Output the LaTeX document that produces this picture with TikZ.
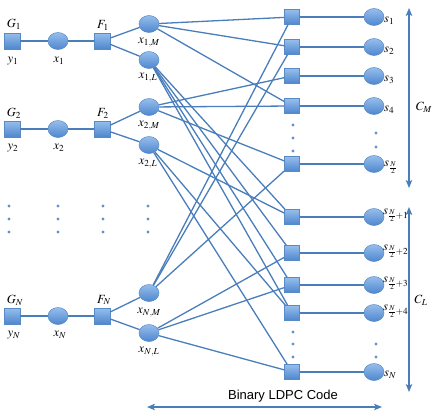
\documentclass[tikz,border=0pt]{standalone}
\usepackage{mathptmx}
\usepackage{fontspec}
\newfontfamily\labelsans{Liberation Sans}
\usetikzlibrary{shapes.geometric,arrows.meta}
\definecolor{edgeblue}{RGB}{74,126,187}
\definecolor{nodetop}{RGB}{150,190,236}
\definecolor{nodebot}{RGB}{78,134,206}
\definecolor{nodeline}{RGB}{88,138,198}
\tikzset{
  sqnode/.style={rectangle, minimum width=16pt, minimum height=16pt, inner sep=0pt,
    top color=nodetop, bottom color=nodebot, draw=nodeline, line width=0.5pt},
  chknode/.style={sqnode, minimum width=15pt, minimum height=15pt},
  varnode/.style={ellipse, minimum width=20pt, minimum height=17pt, inner sep=0pt,
    top color=nodetop, bottom color=nodebot, draw=nodeline, line width=0.5pt},
  conn/.style={draw=edgeblue, line width=1.3pt},
  lab/.style={inner sep=0pt, font=\fontsize{12.5}{14}\selectfont},
  dotmark/.style={circle, fill=edgeblue!85, inner sep=0pt, minimum size=3.2pt},
  dblarrow/.style={draw=edgeblue, line width=1.3pt,
    {Stealth[length=8pt,width=6.5pt,inset=2pt]}-{Stealth[length=8pt,width=6.5pt,inset=2pt]}},
}
\begin{document}
\begin{tikzpicture}[x=1pt,y=-1pt]
\useasboundingbox (0,0) rectangle (436,418);

% left chain nodes
\node[sqnode]  (G1) at (12,41) {};
\node[varnode] (x1) at (58,41) {};
\node[sqnode]  (F1) at (102,41) {};
\node[sqnode]  (G2) at (12,129) {};
\node[varnode] (x2) at (58,129) {};
\node[sqnode]  (F2) at (102,129) {};
\node[sqnode]  (GN) at (12,316) {};
\node[varnode] (xN) at (58,316) {};
\node[sqnode]  (FN) at (102,316) {};

% bit nodes
\node[varnode] (x1M) at (149,24) {};
\node[varnode] (x1L) at (149,60) {};
\node[varnode] (x2M) at (149,107) {};
\node[varnode] (x2L) at (149,145) {};
\node[varnode] (xNM) at (149,293) {};
\node[varnode] (xNL) at (149,333) {};

% check nodes and symbol nodes
\foreach \i/\y in {1/17,2/47,3/76,4/106,5/164,6/217,7/253,8/285,9/313,10/372}{
  \node[chknode] (c\i) at (292,\y) {};
  \node[varnode] (s\i) at (374,\y) {};
}

% connectors
\foreach \r in {1,2,N}{
  \draw[conn] (G\r) -- (x\r);
  \draw[conn] (x\r) -- (F\r);
  \draw[conn] (F\r) -- (x\r M);
  \draw[conn] (F\r) -- (x\r L);
}
\foreach \a/\b in {x1M/c1,x1M/c2,x1M/c4,
                   x1L/c6,x1L/c7,x1L/c8,x1L/c9,
                   x2M/c3,x2M/c4,x2M/c5,
                   x2L/c6,x2L/c9,x2L/c10,
                   xNM/c1,xNM/c2,xNM/c5,
                   xNL/c7,xNL/c8,xNL/c10}{
  \draw[conn] (\a) -- (\b);
}
\foreach \i in {1,...,10}{
  \draw[conn] (c\i) -- (s\i);
}

% labels left
\node[lab] (lG1) at (14,24) {$G_1$};
\node[lab] (ly1) at (13,61) {$y_1$};
\node[lab] (lx1) at (59,61) {$x_1$};
\node[lab] (lF1) at (103,25) {$F_1$};
\node[lab] (lx1M) at (149,43) {$x_{1,M}$};
\node[lab] (lx1L) at (148,78) {$x_{1,L}$};
\node[lab] (lG2) at (14,113) {$G_2$};
\node[lab] (ly2) at (13,148) {$y_2$};
\node[lab] (lx2) at (59,148) {$x_2$};
\node[lab] (lF2) at (103,113) {$F_2$};
\node[lab] (lx2M) at (149,126) {$x_{2,M}$};
\node[lab] (lx2L) at (148,164) {$x_{2,L}$};
\node[lab] (lGN) at (15,300) {$G_N$};
\node[lab] (lyN) at (14,335) {$y_N$};
\node[lab] (lxN) at (60,335) {$x_N$};
\node[lab] (lFN) at (104,300) {$F_N$};
\node[lab] (lxNM) at (149,313) {$x_{N,M}$};
\node[lab] (lxNL) at (149,352) {$x_{N,L}$};

% labels right
\node[lab,anchor=west] (ls1) at (384,21) {$s_1$};
\node[lab,anchor=west] (ls2) at (384,51) {$s_2$};
\node[lab,anchor=west] (ls3) at (384,80) {$s_3$};
\node[lab,anchor=west] (ls4) at (384,110) {$s_4$};
\node[lab,anchor=base west] (ls5) at (384,166) {$s_{\frac{N}{2}}$};
\node[lab,anchor=base west] (ls6) at (383,214) {$s_{\frac{N}{2}+1}$};
\node[lab,anchor=base west] (ls7) at (383,250) {$s_{\frac{N}{2}+2}$};
\node[lab,anchor=base west] (ls8) at (383,282) {$s_{\frac{N}{2}+3}$};
\node[lab,anchor=base west] (ls9) at (383,310) {$s_{\frac{N}{2}+4}$};
\node[lab,anchor=west] (ls10) at (384,375) {$s_N$};

% dots
\foreach \x in {9,58,103,148}{
  \foreach \y in {206,219,232}{
    \node[dotmark] at (\x,\y) {};
  }
}
\foreach \y in {125,138,151,332,344,357}{
  \node[dotmark] at (293,\y) {};
}
\foreach \y in {133,147,344,357}{
  \node[dotmark] at (376,\y) {};
}

% range arrows
\coordinate (cmT) at (409,8);
\coordinate (cmB) at (409,188);
\coordinate (clT) at (409,207);
\coordinate (clB) at (409,392);
\coordinate (bL) at (147,407);
\coordinate (bR) at (382,407);
\draw[dblarrow] (cmT) -- (cmB);
\draw[dblarrow] (clT) -- (clB);
\draw[dblarrow] (bL) -- (bR);
\node[lab] (lCM) at (424,107) {$C_M$};
\node[lab] (lCL) at (421,300) {$C_L$};
\node[inner sep=0pt, font=\labelsans\fontsize{13}{15}\selectfont] (lbin) at (283,396) {Binary LDPC Code};
\end{tikzpicture}
\end{document}
